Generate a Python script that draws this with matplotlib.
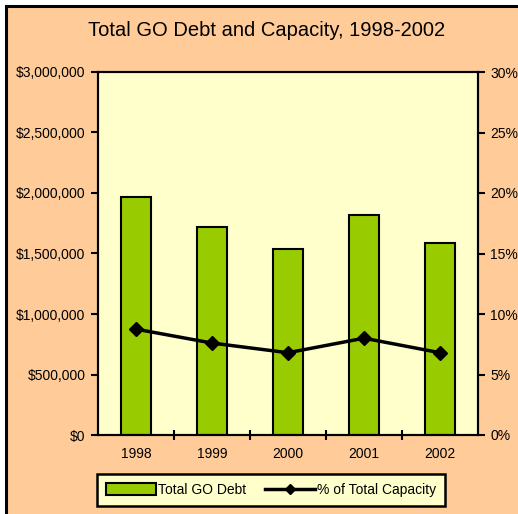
import matplotlib
matplotlib.use("Agg")
import matplotlib.pyplot as plt
from matplotlib.patches import Rectangle
from matplotlib.lines import Line2D
from matplotlib.ticker import FuncFormatter, MultipleLocator

years = ["1998", "1999", "2000", "2001", "2002"]
debt = [1970000, 1720000, 1537000, 1821000, 1589000]
pct_capacity = [8.75, 7.6, 6.8, 8.0, 6.8]

title = "Total GO Debt and Capacity, 1998-2002"
legend_labels = ["Total GO Debt", "% of Total Capacity"]

plt.rcParams["font.family"] = ["Liberation Sans", "DejaVu Sans"]

W, H = 518, 514
fig = plt.figure(figsize=(W / 100, H / 100), dpi=100)
fig.patch.set_facecolor("white")

orange = "#FFCC99"
fig.patches.append(Rectangle((6 / W, -0.1), 1.2, 1.1 - 6 / H, transform=fig.transFigure,
                             facecolor=orange, edgecolor="black", linewidth=2.2, zorder=-10))

ax = fig.add_axes([98 / W, (H - 435) / H, 380 / W, 363 / H])
ax.set_facecolor("#FFFFCC")
x = list(range(len(years)))
ax.bar(x, debt, width=0.4, color="#99CC00", edgecolor="black", linewidth=1.5, zorder=2)
ax.set_xlim(-0.5, len(years) - 0.5)
ax.set_ylim(0, 3000000)
ax.yaxis.set_major_locator(MultipleLocator(500000))
ax.yaxis.set_major_formatter(FuncFormatter(lambda v, p: "${:,.0f}".format(v)))
ax.set_xticks(x)
ax.set_xticklabels(years)
ax.set_xticks([i + 0.5 for i in x[:-1]], minor=True)
ax.tick_params(axis="x", which="major", length=0, pad=9, labelsize=10)
ax.tick_params(axis="x", which="minor", direction="inout", length=7, width=1.5)
ax.tick_params(axis="y", direction="out", length=5, width=1.5, labelsize=10, pad=4)
for s in ax.spines.values():
    s.set_linewidth(1.5)

ax2 = ax.twinx()
ax2.plot(x, pct_capacity, color="black", linewidth=2.5, marker="D", markersize=7, zorder=3)
ax2.set_ylim(0, 30)
ax2.yaxis.set_major_locator(MultipleLocator(5))
ax2.yaxis.set_major_formatter(FuncFormatter(lambda v, p: "{:.0f}%".format(v)))
ax2.tick_params(axis="y", direction="out", length=5, width=1.5, labelsize=10, pad=4)
for s in ax2.spines.values():
    s.set_linewidth(1.5)

fig.text(267 / W, 1 - 31 / H, title, ha="center", va="center", fontsize=14.5)

handles = [Rectangle((0, 0), 1, 1, facecolor="#99CC00", edgecolor="black", linewidth=1.5),
           Line2D([0], [0], color="black", linewidth=2.5, marker="D", markersize=5)]
leg = fig.legend(handles, legend_labels, loc="center", bbox_to_anchor=(271 / W, 1 - 490 / H),
                 ncol=2, fontsize=10, frameon=True, fancybox=False, handlelength=3.6,
                 handleheight=0.9, handletextpad=0.2, columnspacing=1.3, borderpad=0.65)
leg.get_frame().set_facecolor("#FFFFCC")
leg.get_frame().set_edgecolor("black")
leg.get_frame().set_linewidth(1.8)
leg.get_frame().set_alpha(1)

fig.savefig("out.png", dpi=100, facecolor=fig.get_facecolor())
